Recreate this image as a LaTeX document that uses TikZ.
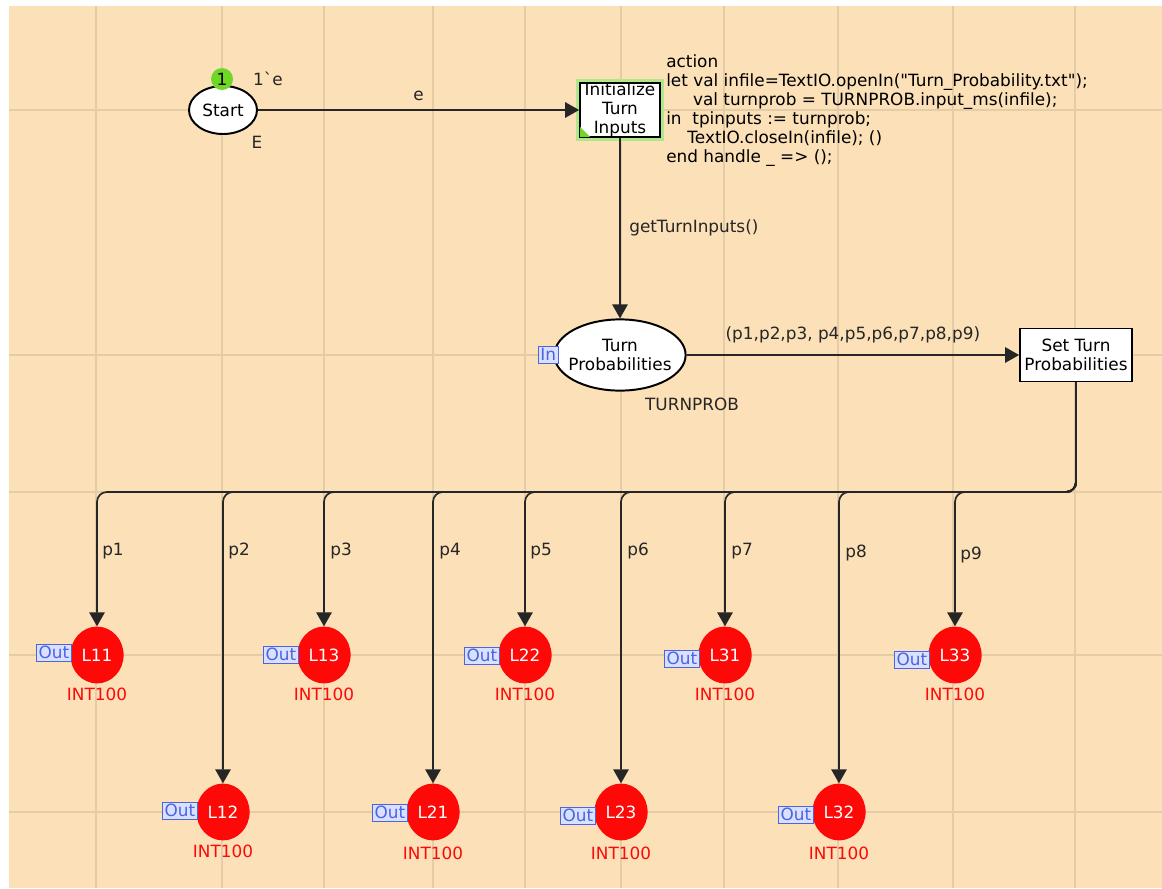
\documentclass[tikz,border=0pt]{standalone}
\usepackage{fontspec}
\setmainfont{DejaVu Sans}
\usetikzlibrary{arrows.meta,shapes.geometric}

\definecolor{cpnbg}{RGB}{251,224,184}
\definecolor{cpngrid}{RGB}{228,205,166}
\definecolor{cpnred}{RGB}{255,8,8}
\definecolor{cpnblue}{RGB}{75,100,225}
\definecolor{cpntag}{RGB}{218,224,255}
\definecolor{cpngreen}{RGB}{112,214,40}

\begin{document}
\begin{tikzpicture}[x=0.025cm, y=-0.025cm, font=\fontsize{12}{13.5}\selectfont,
  place/.style={draw, ellipse, fill=white, line width=1.4pt, align=center, inner sep=0pt},
  trans/.style={draw, rectangle, fill=white, line width=1.2pt, align=center, inner sep=0pt},
  lplace/.style={ellipse, fill=cpnred, text=white, minimum width=1.33cm, minimum height=1.42cm, inner sep=0pt},
  tag/.style={draw=cpnblue, fill=cpntag, text=cpnblue, line width=0.9pt, inner xsep=1.6pt, inner ysep=1.3pt, text height=8.8pt, text depth=0.4pt},
  ctype/.style={text=cpnred, inner sep=0pt},
  arc/.style={draw=black!85, line width=1.2pt, -{Triangle[length=10pt,width=11pt]}},
  lab/.style={inner sep=0pt, text=black!85}]
\useasboundingbox (0,0) rectangle (1162,888);
% background and grid
\fill[cpnbg] (9,6) rectangle (1162,888);
\foreach \gx in {96,222,324,433,525,621,724,838,953,1075}
  \draw[cpngrid, line width=1.2pt] (\gx,6) -- (\gx,888);
\foreach \gy in {110,355,492,655,812}
  \draw[cpngrid, line width=1.2pt] (9,\gy) -- (1162,\gy);

% top part
\node[place, minimum width=1.7cm, minimum height=1.2cm] (start) at (223,110) {Start};
\node[circle, fill=cpngreen, minimum size=0.55cm, inner sep=0pt] (tok) at (222,79) {1};
\node[lab] (mark) at (268,79) {1\textasciigrave e};
\node[lab] (stype) at (257,142) {E};
\node[trans, minimum width=2.0cm, minimum height=1.33cm,
  preaction={draw=cpngreen!55, line width=5pt}] (init) at (620,110) {Initialize\\Turn\\Inputs};
\fill[cpngreen] ([shift={(1,-1)}]init.south west) -- ++(10,0) -- ++(-10,-10) -- cycle;
\node[anchor=north west, align=left, inner sep=0pt] (act) at (666,54) {action\\
let val infile=TextIO.openIn(\textquotedbl Turn\_Probability.txt\textquotedbl);\\
\hspace*{0.67cm}val turnprob = TURNPROB.input\_ms(infile);\\
in\ \ tpinputs := turnprob;\\
\hspace*{0.53cm}TextIO.closeIn(infile); ()\\
end handle \_ => ();};
\node[place, minimum width=3.28cm, minimum height=1.78cm, inner xsep=-5pt] (tp) at (620,355) {Turn\\Probabilities};
\node[tag, anchor=east] (tpin) at ([xshift=4]tp.west) {In};
\node[lab] (tptype) at (692,404) {TURNPROB};
\node[trans, minimum width=2.8cm, minimum height=1.33cm] (set) at (1076,355) {Set Turn\\Probabilities};
\coordinate (bus) at (600,492);

\draw[arc] (start) -- node[lab, above=6pt] (le) {e} (init);
\draw[arc] (init) -- node[lab, right=6pt] (lget) {getTurnInputs()} (tp);
\draw[arc] (tp) -- node[lab, above=8pt] (ltup) {(p1,p2,p3, p4,p5,p6,p7,p8,p9)} (set);

% output places
\node[lplace] (l11) at (97,655) {L11};
\node[lplace] (l12) at (223,812) {L12};
\node[lplace] (l13) at (324,655) {L13};
\node[lplace] (l21) at (433,812) {L21};
\node[lplace] (l22) at (525,655) {L22};
\node[lplace] (l23) at (621,812) {L23};
\node[lplace] (l31) at (725,655) {L31};
\node[lplace] (l32) at (839,812) {L32};
\node[lplace] (l33) at (955,655) {L33};

\node[tag, anchor=east] (o11) at ([shift={(2,-2)}]l11.west) {Out};
\node[tag, anchor=east] (o12) at ([shift={(2,-1)}]l12.west) {Out};
\node[tag, anchor=east] (o13) at ([shift={(2,0)}]l13.west) {Out};
\node[tag, anchor=east] (o21) at ([shift={(2,1)}]l21.west) {Out};
\node[tag, anchor=east] (o22) at ([shift={(2,1)}]l22.west) {Out};
\node[tag, anchor=east] (o23) at ([shift={(2,4)}]l23.west) {Out};
\node[tag, anchor=east] (o31) at ([shift={(2,4)}]l31.west) {Out};
\node[tag, anchor=east] (o32) at ([shift={(2,3)}]l32.west) {Out};
\node[tag, anchor=east] (o33) at ([shift={(2,5)}]l33.west) {Out};

\node[ctype] (t11) at (97,694) {INT100};
\node[ctype] (t12) at (223,851) {INT100};
\node[ctype] (t13) at (324,694) {INT100};
\node[ctype] (t21) at (433,853) {INT100};
\node[ctype] (t22) at (525,694) {INT100};
\node[ctype] (t23) at (621,853) {INT100};
\node[ctype] (t31) at (725,694) {INT100};
\node[ctype] (t32) at (839,853) {INT100};
\node[ctype] (t33) at (955,694) {INT100};

\draw[arc, rounded corners=7pt] (set.south) |- (l11 |- bus) -- (l11);
\draw[arc, rounded corners=7pt] (set.south) |- (l12 |- bus) -- (l12);
\draw[arc, rounded corners=7pt] (set.south) |- (l13 |- bus) -- (l13);
\draw[arc, rounded corners=7pt] (set.south) |- (l21 |- bus) -- (l21);
\draw[arc, rounded corners=7pt] (set.south) |- (l22 |- bus) -- (l22);
\draw[arc, rounded corners=7pt] (set.south) |- (l23 |- bus) -- (l23);
\draw[arc, rounded corners=7pt] (set.south) |- (l31 |- bus) -- (l31);
\draw[arc, rounded corners=7pt] (set.south) |- (l32 |- bus) -- (l32);
\draw[arc, rounded corners=7pt] (set.south) |- (l33 |- bus) -- (l33);

\node[lab, anchor=west] (p1) at (102,551) {p1};
\node[lab, anchor=west] (p2) at (228,551) {p2};
\node[lab, anchor=west] (p3) at (330,551) {p3};
\node[lab, anchor=west] (p4) at (439,551) {p4};
\node[lab, anchor=west] (p5) at (530,551) {p5};
\node[lab, anchor=west] (p6) at (627,551) {p6};
\node[lab, anchor=west] (p7) at (731,551) {p7};
\node[lab, anchor=west] (p8) at (845,553) {p8};
\node[lab, anchor=west] (p9) at (960,555) {p9};
\end{tikzpicture}
\end{document}
